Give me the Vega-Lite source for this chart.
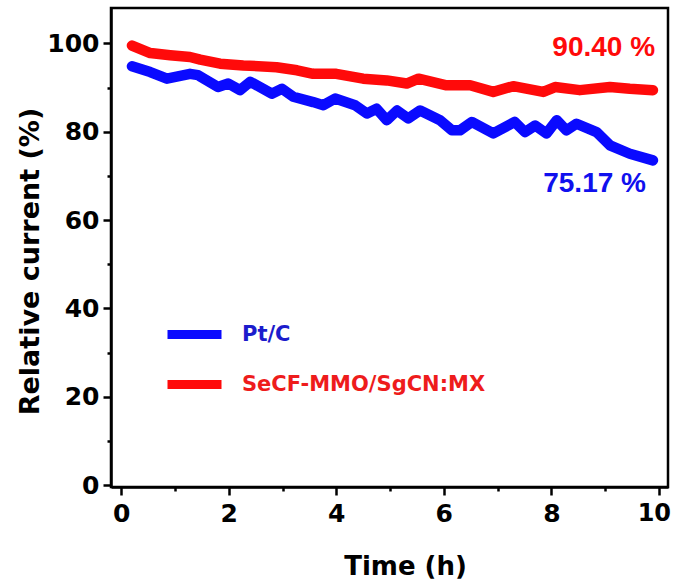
{
  "$schema": "https://vega.github.io/schema/vega-lite/v6.json",
  "width": 557,
  "height": 479,
  "autosize": "none",
  "padding": {"left": 111, "top": 8, "right": 7, "bottom": 101},
  "background": "white",
  "config": {
    "view": {"stroke": "black", "strokeWidth": 2.5},
    "axis": {
      "grid": false,
      "domainColor": "black",
      "domainWidth": 2.5,
      "tickColor": "black",
      "tickWidth": 2.5,
      "labelFont": "DejaVu Sans",
      "labelFontWeight": "bold",
      "labelFontSize": 25,
      "labelColor": "black",
      "labelOverlap": false,
      "labelFlush": false,
      "titleFont": "DejaVu Sans",
      "titleFontWeight": "bold",
      "titleColor": "black"
    }
  },
  "datasets": {
    "curves": [
      {"series": "Pt/C", "time": 0.2, "value": 94.8},
      {"series": "Pt/C", "time": 0.54, "value": 93.5},
      {"series": "Pt/C", "time": 0.85, "value": 92.0},
      {"series": "Pt/C", "time": 1.28, "value": 93.1},
      {"series": "Pt/C", "time": 1.43, "value": 92.8},
      {"series": "Pt/C", "time": 1.80, "value": 90.1},
      {"series": "Pt/C", "time": 1.99, "value": 90.9},
      {"series": "Pt/C", "time": 2.21, "value": 89.4},
      {"series": "Pt/C", "time": 2.40, "value": 91.3},
      {"series": "Pt/C", "time": 2.80, "value": 88.6},
      {"series": "Pt/C", "time": 2.99, "value": 89.7},
      {"series": "Pt/C", "time": 3.20, "value": 87.9},
      {"series": "Pt/C", "time": 3.57, "value": 86.7},
      {"series": "Pt/C", "time": 3.76, "value": 86.0},
      {"series": "Pt/C", "time": 3.98, "value": 87.5},
      {"series": "Pt/C", "time": 4.35, "value": 86.0},
      {"series": "Pt/C", "time": 4.57, "value": 84.1},
      {"series": "Pt/C", "time": 4.75, "value": 85.2},
      {"series": "Pt/C", "time": 4.94, "value": 82.6},
      {"series": "Pt/C", "time": 5.13, "value": 84.8},
      {"series": "Pt/C", "time": 5.34, "value": 83.0},
      {"series": "Pt/C", "time": 5.56, "value": 84.8},
      {"series": "Pt/C", "time": 5.93, "value": 82.6},
      {"series": "Pt/C", "time": 6.15, "value": 80.3},
      {"series": "Pt/C", "time": 6.30, "value": 80.3},
      {"series": "Pt/C", "time": 6.52, "value": 82.2},
      {"series": "Pt/C", "time": 6.92, "value": 79.6},
      {"series": "Pt/C", "time": 7.32, "value": 82.2},
      {"series": "Pt/C", "time": 7.51, "value": 79.9},
      {"series": "Pt/C", "time": 7.70, "value": 81.4},
      {"series": "Pt/C", "time": 7.91, "value": 79.6},
      {"series": "Pt/C", "time": 8.10, "value": 82.6},
      {"series": "Pt/C", "time": 8.28, "value": 80.3},
      {"series": "Pt/C", "time": 8.47, "value": 81.8},
      {"series": "Pt/C", "time": 8.84, "value": 79.9},
      {"series": "Pt/C", "time": 9.09, "value": 76.9},
      {"series": "Pt/C", "time": 9.46, "value": 75.0},
      {"series": "Pt/C", "time": 9.89, "value": 73.5},
      {"series": "SeCF-MMO/SgCN:MX", "time": 0.2, "value": 99.5},
      {"series": "SeCF-MMO/SgCN:MX", "time": 0.54, "value": 97.8},
      {"series": "SeCF-MMO/SgCN:MX", "time": 0.91, "value": 97.3},
      {"series": "SeCF-MMO/SgCN:MX", "time": 1.28, "value": 96.9},
      {"series": "SeCF-MMO/SgCN:MX", "time": 1.47, "value": 96.3},
      {"series": "SeCF-MMO/SgCN:MX", "time": 1.84, "value": 95.4},
      {"series": "SeCF-MMO/SgCN:MX", "time": 2.27, "value": 95.0},
      {"series": "SeCF-MMO/SgCN:MX", "time": 2.89, "value": 94.6},
      {"series": "SeCF-MMO/SgCN:MX", "time": 3.27, "value": 93.9},
      {"series": "SeCF-MMO/SgCN:MX", "time": 3.57, "value": 93.1},
      {"series": "SeCF-MMO/SgCN:MX", "time": 4.0, "value": 93.1},
      {"series": "SeCF-MMO/SgCN:MX", "time": 4.5, "value": 92.0},
      {"series": "SeCF-MMO/SgCN:MX", "time": 4.94, "value": 91.6},
      {"series": "SeCF-MMO/SgCN:MX", "time": 5.31, "value": 90.9},
      {"series": "SeCF-MMO/SgCN:MX", "time": 5.53, "value": 92.0},
      {"series": "SeCF-MMO/SgCN:MX", "time": 6.05, "value": 90.5},
      {"series": "SeCF-MMO/SgCN:MX", "time": 6.49, "value": 90.5},
      {"series": "SeCF-MMO/SgCN:MX", "time": 6.92, "value": 89.0},
      {"series": "SeCF-MMO/SgCN:MX", "time": 7.29, "value": 90.3},
      {"series": "SeCF-MMO/SgCN:MX", "time": 7.85, "value": 89.0},
      {"series": "SeCF-MMO/SgCN:MX", "time": 8.07, "value": 90.1},
      {"series": "SeCF-MMO/SgCN:MX", "time": 8.53, "value": 89.4},
      {"series": "SeCF-MMO/SgCN:MX", "time": 9.09, "value": 90.1},
      {"series": "SeCF-MMO/SgCN:MX", "time": 9.46, "value": 89.7},
      {"series": "SeCF-MMO/SgCN:MX", "time": 9.89, "value": 89.4}
    ],
    "notes": [
      {"series": "Pt/C", "time": 9.76, "value": 68.1, "label": "75.17 %"},
      {"series": "SeCF-MMO/SgCN:MX", "time": 9.93, "value": 98.9, "label": "90.40 %"}
    ]
  },
  "layer": [
    {
      "data": {"name": "curves"},
      "mark": {"type": "line", "strokeWidth": 10.5, "strokeCap": "round", "strokeJoin": "round"},
      "encoding": {
        "x": {
          "field": "time", "type": "quantitative",
          "scale": {"domain": [-0.19, 10.17], "nice": false, "zero": false},
          "axis": {
            "values": [0, 1, 2, 3, 4, 5, 6, 7, 8, 9, 10],
            "labelExpr": "datum.value % 2 === 0 ? datum.label : ''",
            "tickSize": {"condition": {"test": "datum.value % 2 === 0", "value": 8}, "value": 4},
            "labelOffset": {"condition": {"test": "datum.value === 10", "value": -5}, "value": 0},
            "labelFontSize": {"condition": {"test": "datum.value === 10", "value": 24}, "value": 25},
            "labelPadding": 6,
            "title": "Time (h)",
            "titleFontSize": 26,
            "titleX": 294,
            "titleY": 79,
            "titleAlign": "center",
            "titleBaseline": "middle"
          }
        },
        "y": {
          "field": "value", "type": "quantitative",
          "scale": {"domain": [-0.45, 108], "nice": false, "zero": false},
          "axis": {
            "values": [0, 10, 20, 30, 40, 50, 60, 70, 80, 90, 100],
            "labelExpr": "datum.value % 20 === 0 ? datum.label : ''",
            "tickSize": {"condition": {"test": "datum.value % 20 === 0", "value": 8}, "value": 4},
            "labelPadding": 4,
            "title": "Relative current (%)",
            "titleFontSize": 27,
            "titleAngle": -90,
            "titleX": -81,
            "titleY": 253,
            "titleAlign": "center",
            "titleBaseline": "middle"
          }
        },
        "color": {
          "field": "series", "type": "nominal",
          "scale": {"domain": ["Pt/C", "SeCF-MMO/SgCN:MX"], "range": ["#0a0aff", "#ff0a0a"]},
          "legend": {
            "orient": "none",
            "legendX": 52,
            "legendY": 295,
            "title": null,
            "symbolType": "stroke",
            "symbolSize": 2916,
            "symbolStrokeWidth": 9,
            "labelFont": "DejaVu Sans",
            "labelFontWeight": "bold",
            "labelFontSize": 21,
            "labelOffset": 16,
            "rowPadding": 0,
            "labelLimit": 400,
            "encode": {
              "labels": {"update": {"fill": {"signal": "datum.value === 'Pt/C' ? '#1c1ccc' : '#ee1c1c'"}}}
            }
          }
        }
      }
    },
    {
      "data": {"name": "notes"},
      "transform": [{"filter": "datum.series === 'Pt/C'"}],
      "mark": {"type": "text", "font": "Liberation Sans", "fontWeight": "bold", "fontSize": 28, "align": "right", "baseline": "middle", "color": "#1010ee"},
      "encoding": {
        "x": {"field": "time", "type": "quantitative"},
        "y": {"field": "value", "type": "quantitative"},
        "text": {"field": "label"}
      }
    },
    {
      "data": {"name": "notes"},
      "transform": [{"filter": "datum.series !== 'Pt/C'"}],
      "mark": {"type": "text", "font": "Liberation Sans", "fontWeight": "bold", "fontSize": 28, "align": "right", "baseline": "middle", "color": "#ff0a0a"},
      "encoding": {
        "x": {"field": "time", "type": "quantitative"},
        "y": {"field": "value", "type": "quantitative"},
        "text": {"field": "label"}
      }
    }
  ]
}
